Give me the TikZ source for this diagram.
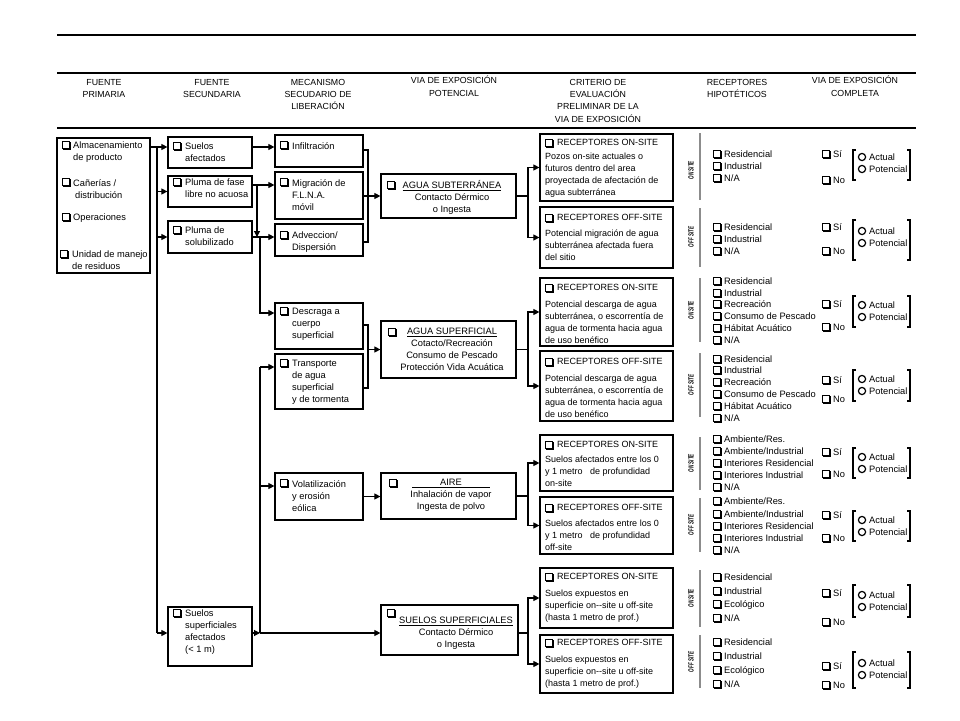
\documentclass[tikz,border=0pt]{standalone}
\usepackage{fontspec}
\setmainfont{Liberation Sans}
\usetikzlibrary{arrows.meta,fit}
\newcommand\fn{\fontsize{9.3}{12}\selectfont}
\newcommand\fh{\fontsize{8.8}{12.3}\selectfont}
\newcommand\ft{\fontsize{9}{12}\selectfont}
\newcommand\fb{\fontsize{9}{11.8}\selectfont}
\newcommand\fr{\fontsize{7.5}{8}\selectfont\bfseries\itshape}
\tikzset{
 bx/.style={draw, line width=1.2pt, inner sep=0pt},
 tx/.style={font=\fn, align=left, anchor=north west, inner sep=0pt, yshift=-1pt},
 tc/.style={font=\fn, align=center, anchor=north, inner sep=0pt},
 hd/.style={font=\fh, align=center, anchor=north, inner sep=0pt},
 lb/.style={font=\fn, anchor=base west, inner sep=0pt},
 ln/.style={line width=1.1pt},
 arr/.style={line width=1.1pt, -{Triangle[length=6pt,width=6pt]}},
 dv/.style={line width=1.4pt, draw=black!45},
 rt/.style={font=\fr, rotate=90, inner sep=0pt},
 br/.style={line width=1.6pt},
 cbx/.pic={\draw[line width=0.8pt] (0,0) rectangle (7.5,7.5); \draw[line width=1.4pt] (8.1,1) -- (8.1,8.1) -- (1,8.1);},
}
\newcommand\cbat[2]{\pic at (#1,#2) {cbx};}
\newcommand\ritem[3]{\pic at (713,#1-4) {cbx}; \node[lb] (#2) at (724,#1+3.5) {#3};}
\newcommand\sino[4]{%
 \pic at (822,#2-4) {cbx}; \node[lb] (#1si) at (833,#2+3.5) {Sí};
 \pic at (822,#3-4) {cbx}; \node[lb] (#1no) at (833,#3+3.5) {No};
 \draw[line width=1.2pt] (862,#4) circle (3.6pt) (862,#4+12) circle (3.6pt);
 \node[lb] (#1ac) at (869,#4+3.5) {Actual};
 \node[lb] (#1po) at (869,#4+15.5) {Potencial};}
\newcommand\brk[2]{\draw[br] (856,#1) -- (853,#1) -- (853,#2) -- (856,#2); \draw[br] (907,#1) -- (910,#1) -- (910,#2) -- (907,#2);}
\newcommand\crit[7]{%
 \node[bx, fit={(540,#2) (673,#3)}] (#1) {};
 \pic at (545,#4-3) {cbx};
 \node[font=\ft, anchor=base west, inner sep=0pt] (#1t) at (557,#4+3.5) {#5};
 \node[tx, font=\fb] (#1b) at (545,#6-4) {#7};}
\newcommand\divi[5]{%
 \draw[dv] (700,#2) -- (700,#3);
 \node[rt] (#1) at (691,#4) {\scalebox{0.6}[1]{#5}};}
\begin{document}
\begin{tikzpicture}[x=1pt,y=-1pt]
\useasboundingbox (0,0) rectangle (960,720);
\draw[line width=2pt] (57,35) -- (916,35);
\draw[line width=2pt] (57,72.5) -- (916,72.5);
\draw[line width=2pt] (57,128) -- (916,128);
% headers
\node[hd] (h1) at (104,79) {FUENTE\\PRIMARIA};
\node[hd] (h2) at (212,79) {FUENTE\\SECUNDARIA};
\node[hd] (h3) at (318,79) {MECANISMO\\SECUDARIO DE\\LIBERACIÓN};
\node[hd] (h4) at (454,76) {VIA DE EXPOSICIÓN\\POTENCIAL};
\node[hd] (h5) at (598,79) {CRITERIO DE\\EVALUACIÓN\\PRELIMINAR DE LA\\VIA DE EXPOSICIÓN};
\node[hd] (h6) at (737,79) {RECEPTORES\\HIPOTÉTICOS};
\node[hd] (h7) at (855,76) {VIA DE EXPOSICIÓN\\COMPLETA};
% primary
\node[bx, fit={(57,138) (150,273)}] (prim) {};
\cbat{62}{141} \node[tx] (p1) at (73,141) {Almacenamiento\\de producto};
\cbat{62}{178} \node[tx] (p2) at (73,178) {Cañerías /\\\hspace*{2pt}distribución};
\cbat{62}{213} \node[tx] (p3) at (73,213) {Operaciones};
\cbat{60}{250} \node[tx] (p4) at (72,250) {Unidad de manejo\\de residuos};
% secondary
\node[bx, fit={(168,137) (252,168)}] (sa) {};
\cbat{173}{142} \node[tx] (sat) at (185,142) {Suelos\\afectados};
\node[bx, fit={(168,176) (252,207)}] (pf) {};
\cbat{173}{178} \node[tx] (pft) at (185,178) {Pluma de fase\\libre no acuosa};
\node[bx, fit={(168,221) (252,253)}] (ps) {};
\cbat{173}{226} \node[tx] (pst) at (185,226) {Pluma de\\solubilizado};
\node[bx, fit={(168,607) (252,666)}] (ss) {};
\cbat{173}{609} \node[tx] (sst) at (185,609) {Suelos\\superficiales\\afectados\\(< 1 m)};
% mechanisms
\node[bx, fit={(275,135) (363,167)}] (inf) {};
\cbat{280}{141} \node[tx] (inft) at (292,141) {Infiltración};
\node[bx, fit={(275,172) (363,219)}] (mig) {};
\cbat{280}{178} \node[tx] (migt) at (292,178) {Migración de\\F.L.N.A.\\móvil};
\node[bx, fit={(275,224) (363,256)}] (adv) {};
\cbat{280}{231} \node[tx] (advt) at (292,231) {Adveccion/\\Dispersión};
\node[bx, fit={(275,303) (363,349)}] (des) {};
\cbat{280}{307} \node[tx] (dest) at (292,307) {Descraga a\\cuerpo\\superficial};
\node[bx, fit={(275,354) (363,409)}] (tr) {};
\cbat{280}{359} \node[tx] (trt) at (292,359) {Transporte\\de agua\\superficial\\y de tormenta};
\node[bx, fit={(275,473) (363,520)}] (vol) {};
\cbat{280}{479} \node[tx] (volt) at (292,479) {Volatilización\\y erosión\\eólica};
% pathways
\node[bx, fit={(381,174) (516,218)}] (ag) {};
\cbat{387}{181} \node[tc] (agt) at (452,180) {\underline{AGUA SUBTERRÁNEA}\\Contacto Dérmico\\o Ingesta};
\node[bx, fit={(381,321) (516,378)}] (as) {};
\cbat{388}{328} \node[tc] (ast) at (452,328) {\underline{AGUA SUPERFICIAL}\\Cotacto/Recreación\\Consumo de Pescado\\Protección Vida Acuática};
\node[bx, fit={(381,473) (516,519)}] (air) {};
\cbat{389}{479} \node[tc] (airt) at (451,479) {\underline{\makebox[78pt][c]{AIRE}}\\Inhalación de vapor\\Ingesta de polvo};
\node[bx, fit={(381,605) (518,655)}] (ssp) {};
\cbat{387}{609} \node[tc] (sspt) at (456,617) {\underline{SUELOS SUPERFICIALES}\\Contacto Dérmico\\o Ingesta};
% criteria
\crit{on1}{134}{201}{142}{RECEPTORES ON-SITE}{156}{Pozos on-site actuales o\\futuros dentro del area\\proyectada de afectación de\\agua subterránea}
\crit{off1}{207}{268}{217}{RECEPTORES OFF-SITE}{233}{Potencial migración de agua\\subterránea afectada fuera\\del sitio}
\crit{on2}{278}{346}{287}{RECEPTORES ON-SITE}{304}{Potencial descarga de agua\\subterránea, o escorrentía de\\agua de tormenta hacia agua\\de uso benéfico}
\crit{off2}{351}{421}{361}{RECEPTORES OFF-SITE}{378}{Potencial descarga de agua\\subterránea, o escorrentía de\\agua de tormenta hacia agua\\de uso benéfico}
\crit{on3}{435}{491}{444}{RECEPTORES ON-SITE}{459}{Suelos afectados entre los 0\\y 1 metro~~~de profundidad\\on-site}
\crit{off3}{497}{554}{507}{RECEPTORES OFF-SITE}{523}{Suelos afectados entre los 0\\y 1 metro~~~de profundidad\\off-site}
\crit{on4}{568}{628}{576}{RECEPTORES ON-SITE}{593}{Suelos expuestos en\\superficie on-{}-site u off-site\\(hasta 1 metro de prof.)}
\crit{off4}{635}{693}{642}{RECEPTORES OFF-SITE}{659}{Suelos expuestos en\\superficie on-{}-site u off-site\\(hasta 1 metro de prof.)}
% receptors block 1
\divi{d1a}{133}{200}{170}{ON SITE}
\ritem{154}{r1a}{Residencial} \ritem{166}{r1b}{Industrial} \ritem{178}{r1c}{N/A}
\sino{s1a}{154}{180}{157} \brk{150}{180}
\divi{d1b}{208}{267}{237}{OFF SITE}
\ritem{227}{r1d}{Residencial} \ritem{239}{r1e}{Industrial} \ritem{251}{r1f}{N/A}
\sino{s1b}{227}{251}{231} \brk{220}{260}
% block 2
\divi{d2a}{278}{342}{310}{ON SITE}
\ritem{281}{r2a}{Residencial} \ritem{293}{r2b}{Industrial} \ritem{304}{r2c}{Recreación}
\ritem{316}{r2d}{Consumo de Pescado} \ritem{328}{r2e}{Hábitat Acuático} \ritem{340}{r2f}{N/A}
\sino{s2a}{304}{327}{305} \brk{296}{327}
\divi{d2b}{353}{417}{385}{OFF SITE}
\ritem{359}{r2g}{Residencial} \ritem{370}{r2h}{Industrial} \ritem{382}{r2i}{Recreación}
\ritem{394}{r2j}{Consumo de Pescado} \ritem{406}{r2k}{Hábitat Acuático} \ritem{418}{r2l}{N/A}
\sino{s2b}{380}{399}{379} \brk{370}{401}
% block 3
\divi{d3a}{437}{490}{463}{ON SITE}
\ritem{439}{r3a}{Ambiente/Res.} \ritem{451}{r3b}{Ambiente/Industrial} \ritem{463}{r3c}{Interiores Residencial}
\ritem{475}{r3d}{Interiores Industrial} \ritem{487}{r3e}{N/A}
\sino{s3a}{452}{474}{457} \brk{448}{478}
\divi{d3b}{498}{552}{525}{OFF SITE}
\ritem{501}{r3f}{Ambiente/Res.} \ritem{514}{r3g}{Ambiente/Industrial} \ritem{526}{r3h}{Interiores Residencial}
\ritem{538}{r3i}{Interiores Industrial} \ritem{550}{r3j}{N/A}
\sino{s3b}{515}{538}{520} \brk{511}{541}
% block 4
\divi{d4a}{570}{627}{598}{ON SITE}
\ritem{577}{r4a}{Residencial} \ritem{591}{r4b}{Industrial} \ritem{604}{r4c}{Ecológico} \ritem{618}{r4d}{N/A}
\sino{s4a}{593}{622}{595} \brk{585}{617}
\divi{d4b}{635}{688}{662}{OFF SITE}
\ritem{642}{r4e}{Residencial} \ritem{656}{r4f}{Industrial} \ritem{670}{r4g}{Ecológico} \ritem{684}{r4h}{N/A}
\sino{s4b}{666}{685}{663} \brk{652}{688}
% ---------- connectors ----------
\coordinate (b1) at (157,147);
\coordinate (yS) at (260,633);
\draw[arr] (prim.east|-b1) -- (sa.west|-b1);
\draw[ln] (b1) -- (b1|-yS);
\draw[arr] (b1|-pf.west) -- (pf.west);
\draw[arr] (b1|-ps.west) -- (ps.west);
\draw[arr] (b1|-yS) -- (ss.west|-yS);
\draw[arr] (sa.east|-b1) -- (inf.west|-b1);
\coordinate (b2) at (257,185);
\draw[arr] (pf.east|-b2) -- (mig.west|-b2);
\draw[arr] (b2) -- (b2|-ps.east);
\draw[arr] (ps.east) -- (adv.west|-ps.east);
\coordinate (b3) at (260,237);
\coordinate (b3d) at (260,313);
\draw[arr] (b3) -- (b3d) -- (des.west|-b3d);
\coordinate (b4) at (260,367);
\coordinate (b5) at (260,486);
\draw[arr] (b4) -- (tr.west|-b4);
\draw[ln] (b4) -- (yS);
\draw[arr] (b5) -- (vol.west|-b5);
\draw[arr] (ss.east|-yS) -- (yS);
\draw[arr] (yS) -- (ssp.west|-yS);
\coordinate (m1) at (368,150); \coordinate (m2) at (368,242);
\draw[ln] (inf.east|-m1) -- (m1) -- (m2) -- (adv.east|-m2);
\draw[arr] (mig.east|-ag.west) -- (ag.west);
\coordinate (m3) at (368,325); \coordinate (m4) at (368,388);
\draw[ln] (des.east|-m3) -- (m3) -- (m4) -- (tr.east|-m4);
\draw[arr] (m3|-as.west) -- (as.west);
\draw[arr] (vol.east) -- (vol.east-|air.west);
\coordinate (c1) at (528,0);
\draw[arr] (ag.east) -- (ag.east-|c1) |- (on1.west);
\draw[arr] (ag.east-|c1) |- (off1.west);
\draw[arr] (as.east) -- (as.east-|c1) |- (on2.west);
\draw[arr] (as.east-|c1) |- (off2.west);
\draw[arr] (air.east) -- (air.east-|c1) |- (on3.west);
\draw[arr] (air.east-|c1) |- (off3.west);
\draw[arr] (ssp.east|-yS) -- (yS-|c1) |- (on4.west);
\draw[arr] (yS-|c1) |- (off4.west);
\end{tikzpicture}
\end{document}
